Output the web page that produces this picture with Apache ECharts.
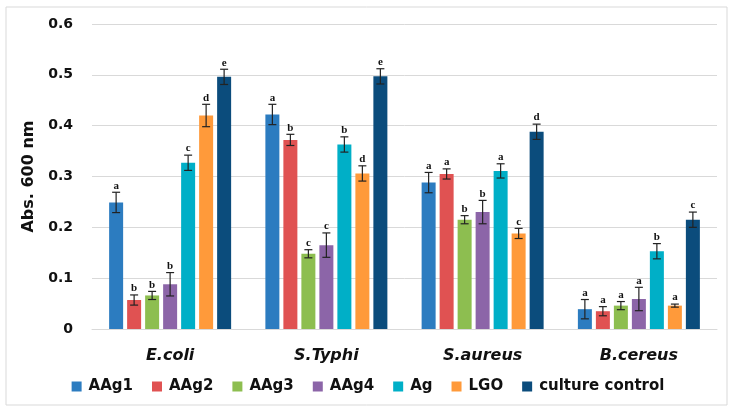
<!DOCTYPE html>
<html>
<head>
<meta charset="utf-8">
<script src="https://cdn.jsdelivr.net/npm/echarts@6/dist/echarts.min.js"></script>
<style>
  html, body { margin: 0; padding: 0; background: #fff; }
  #chart { width: 736px; height: 413px; }
</style>
</head>
<body>
<div id="chart"></div>
<script>
// bacteria
const categories = ['E.coli', 'S.Typhi', 'S.aureus', 'B.cereus']
const seriesNames = ['AAg1', 'AAg2', 'AAg3', 'AAg4', 'Ag', 'LGO', 'culture control']
const yTicks = [0, 0.1, 0.2, 0.3, 0.4, 0.5, 0.6]

// mean absorbance per series, one value per bacterium
const aag1 = [0.249, 0.422, 0.288, 0.039]
const aag2 = [0.057, 0.372, 0.305, 0.035]
const aag3 = [0.066, 0.148, 0.215, 0.046]
const aag4 = [0.088, 0.165, 0.230, 0.059]
const ag = [0.327, 0.363, 0.311, 0.153]
const lgo = [0.420, 0.306, 0.188, 0.046]
const control = [0.496, 0.497, 0.388, 0.215]

// standard deviations (error bars)
const aag1Err = [0.020, 0.020, 0.020, 0.019]
const aag2Err = [0.010, 0.011, 0.010, 0.009]
const aag3Err = [0.008, 0.008, 0.008, 0.008]
const aag4Err = [0.023, 0.024, 0.023, 0.023]
const agErr = [0.015, 0.015, 0.014, 0.015]
const lgoErr = [0.022, 0.015, 0.010, 0.003]
const controlErr = [0.015, 0.015, 0.015, 0.015]

// significance letters
const aag1Sig = ['a', 'a', 'a', 'a']
const aag2Sig = ['b', 'b', 'a', 'a']
const aag3Sig = ['b', 'c', 'b', 'a']
const aag4Sig = ['b', 'c', 'b', 'a']
const agSig = ['c', 'b', 'a', 'b']
const lgoSig = ['d', 'd', 'c', 'a']
const controlSig = ['e', 'e', 'd', 'c']

const means = [aag1, aag2, aag3, aag4, ag, lgo, control]
const errs = [aag1Err, aag2Err, aag3Err, aag4Err, agErr, lgoErr, controlErr]
const sigs = [aag1Sig, aag2Sig, aag3Sig, aag4Sig, agSig, lgoSig, controlSig]
const colors = ['#2C7CC0', '#E05252', '#8DBE50', '#8C65A8', '#00AFC7', '#FF9A3A', '#0B4C7C']

const BAR_W = 14
const BAR_GAP = 4
const FONT = '"DejaVu Sans", "Liberation Sans", Arial, sans-serif'

const barSeries = seriesNames.map((name, i) => ({
  name: name,
  type: 'bar',
  data: means[i],
  barWidth: BAR_W,
  barGap: (BAR_GAP / BAR_W * 100) + '%',
  itemStyle: { color: colors[i] }
}))

const errorSeries = seriesNames.map((name, i) => ({
  name: name,
  type: 'custom',
  z: 5,
  data: categories.map((c, j) => [j, means[i][j] + errs[i][j], means[i][j] - errs[i][j], sigs[i][j]]),
  encode: { x: 0, y: [1, 2] },
  renderItem: function (params, api) {
    const j = api.value(0)
    const hi = api.coord([j, api.value(1)])
    const lo = api.coord([j, api.value(2)])
    const x = hi[0] + (i - 3) * (BAR_W + BAR_GAP)
    const lineStyle = { stroke: '#222', lineWidth: 1.2 }
    return {
      type: 'group',
      children: [
        { type: 'line', shape: { x1: x, y1: hi[1], x2: x, y2: lo[1] }, style: lineStyle },
        { type: 'line', shape: { x1: x - 4, y1: hi[1], x2: x + 4, y2: hi[1] }, style: lineStyle },
        { type: 'line', shape: { x1: x - 4, y1: lo[1], x2: x + 4, y2: lo[1] }, style: lineStyle },
        {
          type: 'text',
          style: {
            text: sigs[i][j],
            x: x,
            y: hi[1] - 1,
            align: 'center',
            verticalAlign: 'bottom',
            font: 'bold 11px "Liberation Serif", serif',
            fill: '#111'
          }
        }
      ]
    }
  }
}))

const chart = echarts.init(document.getElementById('chart'))
chart.setOption({
  animation: false,
  backgroundColor: '#fff',
  graphic: [{
    type: 'rect',
    shape: { x: 6, y: 7, width: 721, height: 398 },
    style: { fill: 'none', stroke: '#D9D9D9', lineWidth: 1 },
    silent: true
  }],
  grid: { left: 92, right: 19, top: 24, bottom: 84 },
  legend: {
    data: seriesNames,
    bottom: 14,
    left: 'center',
    itemWidth: 10,
    itemHeight: 10,
    itemGap: 19,
    icon: 'rect',
    textStyle: {
      fontFamily: FONT,
      fontWeight: 'bold',
      fontSize: 15,
      color: '#111',
      padding: [0, 0, 0, 2]
    }
  },
  xAxis: {
    type: 'category',
    data: categories,
    axisLine: { lineStyle: { color: '#D9D9D9' } },
    axisTick: { show: false },
    axisLabel: {
      margin: 19,
      fontFamily: FONT,
      fontWeight: 'bold',
      fontStyle: 'italic',
      fontSize: 16,
      color: '#111'
    }
  },
  yAxis: {
    type: 'value',
    min: yTicks[0],
    max: yTicks[yTicks.length - 1],
    interval: 0.1,
    name: 'Abs. 600 nm',
    nameLocation: 'middle',
    nameGap: 50,
    nameRotate: 90,
    nameTextStyle: { fontFamily: FONT, fontWeight: 'bold', fontSize: 16, color: '#111' },
    axisLine: { show: false },
    axisTick: { show: false },
    splitLine: { lineStyle: { color: '#D9D9D9' } },
    axisLabel: {
      margin: 19,
      fontFamily: FONT,
      fontWeight: 'bold',
      fontSize: 14,
      color: '#111',
      formatter: v => String(Math.round(v * 10) / 10)
    }
  },
  series: barSeries.concat(errorSeries)
})
</script>
</body>
</html>
